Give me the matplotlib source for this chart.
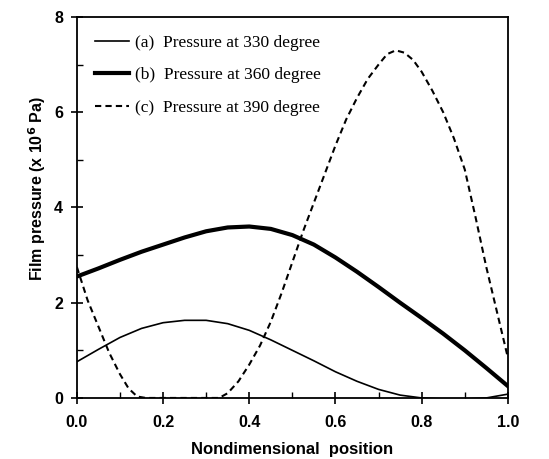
import numpy as np
import matplotlib
matplotlib.use('Agg')
from matplotlib import pyplot as plt
from matplotlib.ticker import MultipleLocator

# nondimensional position
xPos = [0.0, 0.05, 0.1, 0.15, 0.2, 0.25, 0.3, 0.35, 0.4, 0.45, 0.5,
        0.55, 0.6, 0.65, 0.7, 0.75, 0.8, 0.85, 0.9, 0.95, 1.0]
# (a) pressure at 330 degree
p330 = [0.76, 1.02, 1.27, 1.46, 1.58, 1.63, 1.63, 1.56, 1.42, 1.22, 1.0,
        0.78, 0.55, 0.35, 0.18, 0.06, 0.0, -0.02, -0.02, 0.0, 0.08]
# (b) pressure at 360 degree
p360 = [2.55, 2.72, 2.9, 3.07, 3.22, 3.37, 3.5, 3.58, 3.6, 3.55, 3.42,
        3.22, 2.95, 2.65, 2.33, 2.0, 1.68, 1.35, 1.0, 0.63, 0.25]
# (c) pressure at 390 degree
xPosC = [0.0, 0.025, 0.05, 0.075, 0.1, 0.12, 0.14, 0.16, 0.2, 0.25, 0.3,
         0.33, 0.35, 0.375, 0.4, 0.425, 0.45, 0.475, 0.5, 0.525, 0.55,
         0.575, 0.6, 0.625, 0.65, 0.675, 0.7, 0.72, 0.74, 0.76, 0.78, 0.8,
         0.825, 0.85, 0.875, 0.9, 0.925, 0.95, 0.975, 1.0]
p390 = [2.75, 2.05, 1.5, 0.95, 0.5, 0.2, 0.03, 0.0, 0.0, 0.0, 0.0,
        0.0, 0.1, 0.35, 0.7, 1.1, 1.6, 2.2, 2.85, 3.5, 4.1,
        4.7, 5.3, 5.85, 6.3, 6.7, 7.0, 7.22, 7.3, 7.25, 7.1, 6.85,
        6.45, 6.0, 5.45, 4.8, 3.8, 2.75, 1.8, 0.85]

labels = ['(a)  Pressure at 330 degree',
          '(b)  Pressure at 360 degree',
          '(c)  Pressure at 390 degree']

fig = plt.figure(figsize=(5.49, 4.59), dpi=100)
ax = fig.add_axes([0.140, 0.133, 0.785, 0.830])

ax.plot(xPos, p330, color='black', lw=1.2, label=labels[0])
ax.plot(xPos, p360, color='black', lw=3.0, label=labels[1])
ax.plot(xPosC, p390, color='black', lw=1.5, ls=(0, (3, 2)), label=labels[2])

ax.set_xlim(0, 1.0)
ax.set_ylim(0, 8)
ax.xaxis.set_minor_locator(MultipleLocator(0.1))
ax.yaxis.set_major_locator(MultipleLocator(2))
ax.yaxis.set_minor_locator(MultipleLocator(1))
ax.set_xticks([0, 0.2, 0.4, 0.6, 0.8, 1.0])
ax.set_xticklabels(['0.0', '0.2', '0.4', '0.6', '0.8', '1.0'])
ax.tick_params(which='major', direction='inout', length=8, width=1.2)
ax.tick_params(axis='x', which='major', pad=8)
ax.tick_params(axis='y', which='major', pad=6)
ax.tick_params(which='minor', direction='in', length=4, width=1.0)
for lab in ax.get_xticklabels() + ax.get_yticklabels():
    lab.set_fontfamily('Liberation Sans')
    lab.set_fontweight('bold')
    lab.set_fontsize(11.5)
for sp in ax.spines.values():
    sp.set_linewidth(1.3)

ax.set_xlabel('Nondimensional  position', fontfamily='Liberation Sans',
              fontweight='bold', fontsize=12, labelpad=9)
ax.set_ylabel('Film pressure (x 10$^{\\mathbf{6}}$ Pa)', fontfamily='Liberation Sans',
              fontweight='bold', fontsize=11.5)
ax.yaxis.set_label_coords(-0.068, 0.55)

ax.legend(loc='upper left', bbox_to_anchor=(0.025, 0.972), frameon=False,
          handlelength=2.0, handletextpad=0.3, labelspacing=0.95,
          borderaxespad=0.0,
          prop={'family': 'Liberation Serif', 'size': 12.5})

fig.savefig('out.png', dpi=100)
